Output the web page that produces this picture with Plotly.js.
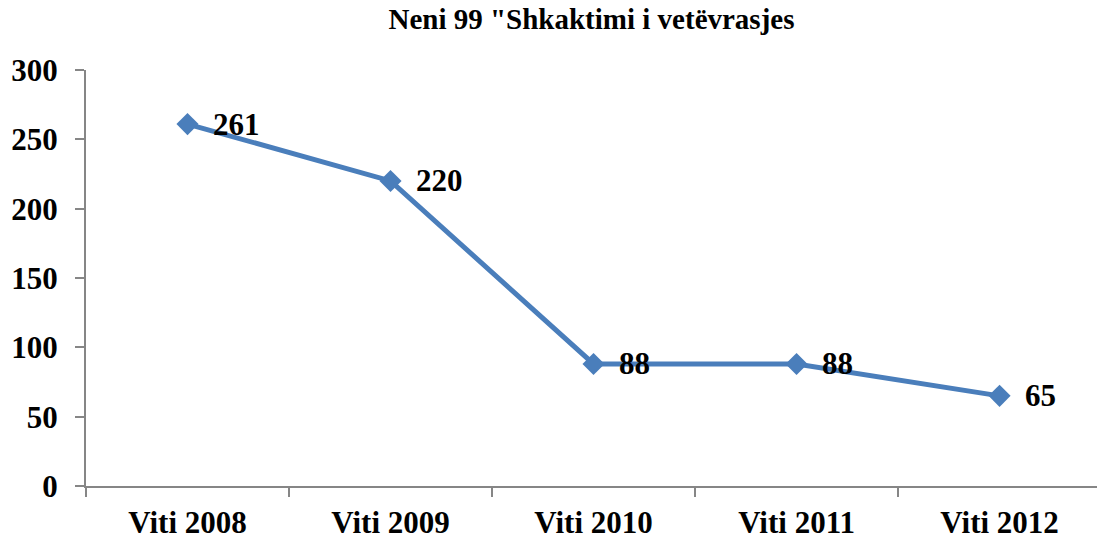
<!DOCTYPE html>
<html>
<head>
<meta charset="utf-8">
<script src="https://cdn.plot.ly/plotly-3.0.1.min.js"></script>
<style>html,body{margin:0;padding:0;background:#fff;}#chart{width:1097px;height:539px;}</style>
</head>
<body>
<div id="chart"></div>
<script>
const categories = ["Viti 2008", "Viti 2009", "Viti 2010", "Viti 2011", "Viti 2012"];
const values = [261, 220, 88, 88, 65];
const yTicks = [0, 50, 100, 150, 200, 250, 300];
const chartTitle = 'Neni 99 "Shkaktimi i vetëvrasjes';

const serif = "Liberation Serif, Times New Roman, serif";
const trace = {
  x: categories,
  y: values,
  type: "scatter",
  mode: "lines+markers",
  line: {color: "#4a7ebb", width: 5},
  marker: {symbol: "diamond", size: 17, color: "#4a7ebb"},
  cliponaxis: false,
  hoverinfo: "skip"
};
const labels = categories.map((c, i) => ({
  x: c, y: values[i], xref: "x", yref: "y",
  text: "<b>" + values[i] + "</b>",
  showarrow: false, xanchor: "left", yanchor: "middle", xshift: 23,
  font: {family: serif, size: 31, color: "#000"}
}));
const layout = {
  width: 1097, height: 539,
  margin: {l: 86, r: 0, t: 70, b: 53},
  paper_bgcolor: "#fff", plot_bgcolor: "#fff",
  showlegend: false,
  annotations: labels,
  title: {text: "<b>" + chartTitle + "</b>", font: {family: serif, size: 29, color: "#000"},
          x: 0.5, xref: "paper", y: 0.965, yref: "container", yanchor: "middle"},
  xaxis: {
    type: "category", range: [-0.5, 4.48], tickson: "boundaries",
    tickvals: categories, ticktext: categories.map(c => "<b>" + c + "</b>"),
    showline: true, linecolor: "#868686", linewidth: 2,
    ticks: "outside", ticklen: 9, tickwidth: 2, tickcolor: "#868686",
    showgrid: false, zeroline: false,
    tickfont: {family: serif, size: 31, color: "#000"},
    ticklabelstandoff: 8
  },
  yaxis: {
    range: [0, 300], tickvals: yTicks, ticktext: yTicks.map(v => "<b>" + v + "</b>"),
    showline: true, linecolor: "#868686", linewidth: 2,
    ticks: "outside", ticklen: 9, tickwidth: 2, tickcolor: "#868686",
    showgrid: false, zeroline: false,
    tickfont: {family: serif, size: 31, color: "#000"},
    ticklabelstandoff: 11
  }
};
Plotly.newPlot("chart", [trace], layout, {staticPlot: true, displayModeBar: false});
</script>
</body>
</html>
